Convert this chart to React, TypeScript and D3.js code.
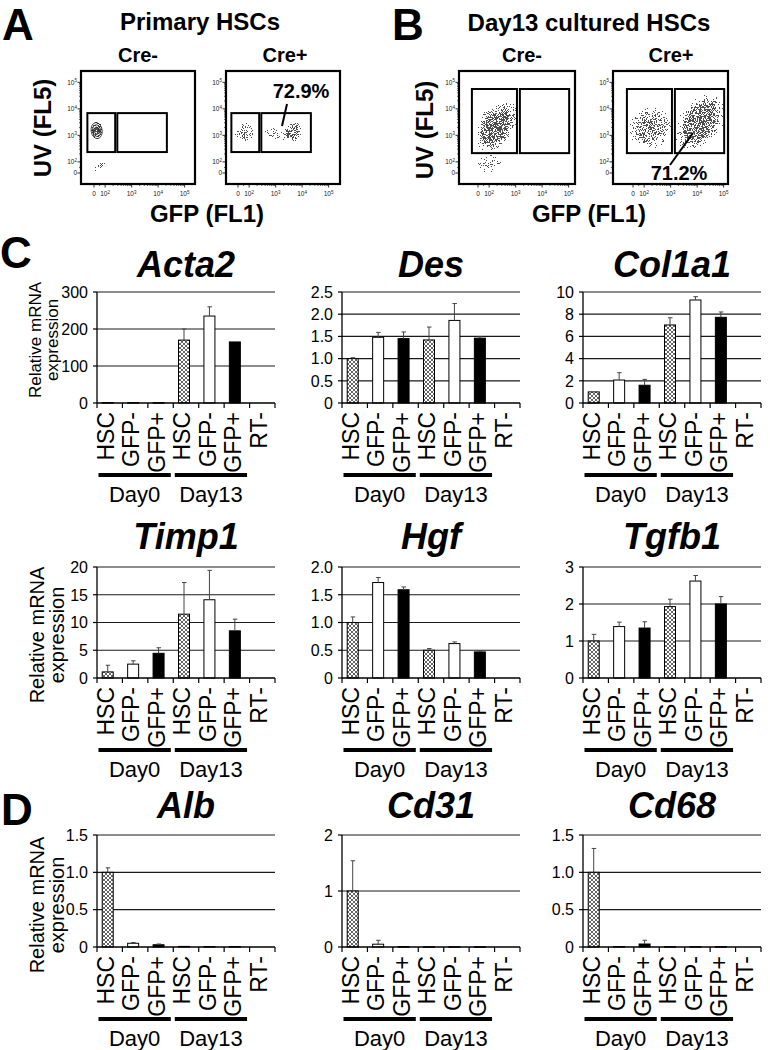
import React from "react";
import * as d3 from "d3";

const FONT = "'Liberation Sans', Arial, Helvetica, sans-serif";

// ---------------- Bar chart data ----------------
const categories = ["HSC", "GFP-", "GFP+", "HSC", "GFP-", "GFP+", "RT-"];
const sampleTypes = ["hsc", "neg", "pos", "hsc", "neg", "pos", "rt"];
const dayGroups = ["Day0", "Day13"];
const dayGroupSpans = [[0, 2], [3, 5]];

const acta2Mean = [1.2, 1.0, 0.8, 170, 235, 165, 0];
const acta2Sd = [0, 0, 0, 30, 25, 0, 0];
const acta2Ticks = [0, 100, 200, 300];
const acta2TickLabels = ["0", "100", "200", "300"];

const desMean = [1.0, 1.48, 1.45, 1.42, 1.86, 1.46, 0];
const desSd = [0.02, 0.11, 0.15, 0.29, 0.38, 0.03, 0];
const desTicks = [0, 0.5, 1, 1.5, 2, 2.5];
const desTickLabels = ["0", "0.5", "1.0", "1.5", "2.0", "2.5"];

const col1a1Mean = [1.0, 2.07, 1.6, 7.03, 9.28, 7.72, 0];
const col1a1Sd = [0, 0.66, 0.53, 0.65, 0.3, 0.48, 0];
const col1a1Ticks = [0, 2, 4, 6, 8, 10];
const col1a1TickLabels = ["0", "2", "4", "6", "8", "10"];

const timp1Mean = [1.1, 2.5, 4.45, 11.5, 14.1, 8.5, 0];
const timp1Sd = [1.2, 0.6, 1.0, 5.7, 5.3, 2.1, 0];
const timp1Ticks = [0, 5, 10, 15, 20];
const timp1TickLabels = ["0", "5", "10", "15", "20"];

const hgfMean = [1.0, 1.72, 1.59, 0.5, 0.62, 0.47, 0];
const hgfSd = [0.1, 0.09, 0.05, 0.03, 0.03, 0.02, 0];
const hgfTicks = [0, 0.5, 1, 1.5, 2];
const hgfTickLabels = ["0", "0.5", "1.0", "1.5", "2.0"];

const tgfb1Mean = [1.0, 1.39, 1.35, 1.93, 2.62, 2.0, 0];
const tgfb1Sd = [0.18, 0.12, 0.17, 0.2, 0.15, 0.2, 0];
const tgfb1Ticks = [0, 1, 2, 3];
const tgfb1TickLabels = ["0", "1", "2", "3"];

const albMean = [1.0, 0.05, 0.03, 0.008, 0.006, 0.006, 0];
const albSd = [0.06, 0.01, 0.01, 0, 0, 0, 0];
const albTicks = [0, 0.5, 1, 1.5];
const albTickLabels = ["0", "0.5", "1.0", "1.5"];

const cd31Mean = [1.0, 0.05, 0.006, 0.004, 0.004, 0.004, 0];
const cd31Sd = [0.54, 0.07, 0, 0, 0, 0, 0];
const cd31Ticks = [0, 1, 2];
const cd31TickLabels = ["0", "1", "2"];

const cd68Mean = [1.0, 0.006, 0.04, 0.004, 0.004, 0.004, 0];
const cd68Sd = [0.32, 0, 0.05, 0, 0, 0, 0];
const cd68Ticks = [0, 0.5, 1, 1.5];
const cd68TickLabels = ["0", "0.5", "1.0", "1.5"];

// ---------------- Flow cytometry data (display units: decades on biexponential axis) ----------------
const flowTickValues = [0, 1e2, 1e3, 1e4, 1e5];
const flowTickExps = ["", "2", "3", "4", "5"];
// populations: centre (ux, uy), half-widths (sx, sy), tilt, peak event density
const aNegClusters = [
  { ux: 0.1, uy: 1.6, sx: 0.26, sy: 0.38, rot: -8, dens: 0.62, contour: true },
  { ux: 0.25, uy: 0.27, sx: 0.32, sy: 0.13, rot: -35, dens: 0.44, contour: false },
];
const aPosClusters = [
  { ux: 0.28, uy: 1.5, sx: 0.42, sy: 0.4, rot: 0, dens: 0.5, contour: false },
  { ux: 1.47, uy: 1.48, sx: 0.52, sy: 0.32, rot: 0, dens: 0.44, contour: false },
  { ux: 2.15, uy: 1.55, sx: 0.32, sy: 0.42, rot: 0, dens: 0.57, contour: false },
];
const bNegClusters = [
  { ux: 0.68, uy: 1.74, sx: 1.12, sy: 0.7, rot: -56, dens: 0.61, contour: false },
  { ux: 0.4, uy: 0.35, sx: 0.58, sy: 0.34, rot: -20, dens: 0.44, contour: false },
];
const bPosClusters = [
  { ux: 0.64, uy: 1.7, sx: 0.92, sy: 0.82, rot: -30, dens: 0.55, contour: false },
  { ux: 2.55, uy: 1.92, sx: 1.28, sy: 0.82, rot: -55, dens: 0.6, contour: false },
];
const aGates = [[-0.25, 0.8, 0.79, 2.26], [0.88, 2.75, 0.79, 2.26]];
const bGates = [[-0.23, 1.47, 0.75, 3.17], [1.58, 3.44, 0.75, 3.17]];

function flowU(v: number) {
  if (v <= 0) return 0;
  if (v < 100) return (0.42 * v) / 100;
  return 0.42 + Math.log10(v / 100);
}

// ---------------- Layout ----------------
const COL_X = [97, 342, 583];
const PLOT_W = 178;
const ROWS = [
  { top: 292, bottom: 403, titleY: 277, labelSize: 17, labelY: 340, l1: 41, l2: 58 },
  { top: 567, bottom: 678, titleY: 549, labelSize: 20, labelY: 635, l1: 44, l2: 64 },
  { top: 835, bottom: 947, titleY: 818, labelSize: 20, labelY: 905, l1: 44, l2: 64 },
];
const FLOW_DEC = 26.5;

const charts = [
  { gene: "Acta2", mean: acta2Mean, sd: acta2Sd, ticks: acta2Ticks, tl: acta2TickLabels, row: 0, col: 0 },
  { gene: "Des", mean: desMean, sd: desSd, ticks: desTicks, tl: desTickLabels, row: 0, col: 1 },
  { gene: "Col1a1", mean: col1a1Mean, sd: col1a1Sd, ticks: col1a1Ticks, tl: col1a1TickLabels, row: 0, col: 2 },
  { gene: "Timp1", mean: timp1Mean, sd: timp1Sd, ticks: timp1Ticks, tl: timp1TickLabels, row: 1, col: 0 },
  { gene: "Hgf", mean: hgfMean, sd: hgfSd, ticks: hgfTicks, tl: hgfTickLabels, row: 1, col: 1 },
  { gene: "Tgfb1", mean: tgfb1Mean, sd: tgfb1Sd, ticks: tgfb1Ticks, tl: tgfb1TickLabels, row: 1, col: 2 },
  { gene: "Alb", mean: albMean, sd: albSd, ticks: albTicks, tl: albTickLabels, row: 2, col: 0 },
  { gene: "Cd31", mean: cd31Mean, sd: cd31Sd, ticks: cd31Ticks, tl: cd31TickLabels, row: 2, col: 1 },
  { gene: "Cd68", mean: cd68Mean, sd: cd68Sd, ticks: cd68Ticks, tl: cd68TickLabels, row: 2, col: 2 },
];

const flowPlots = [
  { id: "a1", left: 81, right: 195, top: 71, bottom: 184, x0: 13, clusters: aNegClusters, gates: aGates, seed: 3 },
  { id: "a2", left: 226, right: 340, top: 71, bottom: 184, x0: 12, clusters: aPosClusters, gates: aGates, seed: 7 },
  { id: "b1", left: 459, right: 575, top: 71, bottom: 184, x0: 19, clusters: bNegClusters, gates: bGates, seed: 11 },
  { id: "b2", left: 613, right: 728, top: 71, bottom: 184, x0: 20, clusters: bPosClusters, gates: bGates, seed: 19 },
];

function fillFor(t: string) {
  if (t === "hsc") return "url(#hatch)";
  if (t === "neg") return "#fff";
  return "#000";
}

function BarChart({ c }: any) {
  const r = ROWS[c.row];
  const x0 = COL_X[c.col];
  const x = d3.scaleBand<number>().domain(d3.range(categories.length)).range([x0, x0 + PLOT_W]);
  const y = d3.scaleLinear().domain([0, d3.max(c.ticks as number[]) as number]).range([r.bottom, r.top]);
  const bw = 11;
  const step = x.step();
  return (
    <g>
      <text x={x0 + PLOT_W / 2} y={r.titleY} textAnchor="middle" fontSize={36} fontWeight="bold" fontStyle="italic">
        {c.gene}
      </text>
      {c.col === 0 && (
        <g fontSize={r.labelSize}>
          <text transform={`translate(${r.l1},${r.labelY}) rotate(-90)`} textAnchor="middle">Relative mRNA</text>
          <text transform={`translate(${r.l2},${r.labelY}) rotate(-90)`} textAnchor="middle">expression</text>
        </g>
      )}
      {c.ticks.map((t: number, i: number) => (
        <g key={i}>
          {t > 0 && <line x1={x0} x2={x0 + PLOT_W} y1={y(t)} y2={y(t)} stroke="#1a1a1a" strokeWidth={1.2} />}
          <line x1={x0 - 4} x2={x0} y1={y(t)} y2={y(t)} stroke="#000" strokeWidth={1.2} />
          <text x={x0 - 9} y={y(t)} dy="0.36em" textAnchor="end" fontSize={16}>{c.tl[i]}</text>
        </g>
      ))}
      {c.mean.map((m: number, i: number) => {
        if (sampleTypes[i] === "rt") return null;
        const cx = (x(i) as number) + step / 2 - 2;
        const sd = c.sd[i];
        return (
          <g key={i}>
            <rect x={cx - bw / 2} y={y(m)} width={bw} height={Math.max(0.5, y(0) - y(m))} fill={fillFor(sampleTypes[i])} stroke="#000" strokeWidth={1} />
            {sd > 0 && (
              <g stroke="#444" strokeWidth={1}>
                <line x1={cx} x2={cx} y1={y(m)} y2={y(m + sd)} />
                <line x1={cx - 2} x2={cx + 2.5} y1={y(m + sd)} y2={y(m + sd)} />
              </g>
            )}
          </g>
        );
      })}
      <line x1={x0} x2={x0} y1={r.top} y2={r.bottom} stroke="#000" strokeWidth={1.3} />
      <line x1={x0} x2={x0 + PLOT_W} y1={r.bottom} y2={r.bottom} stroke="#000" strokeWidth={1.6} />
      {d3.range(categories.length + 1).map((i) => (
        <line key={i} x1={x0 + i * step} x2={x0 + i * step} y1={r.bottom} y2={r.bottom + 5} stroke="#000" strokeWidth={1.2} />
      ))}
      {categories.map((cat, i) => {
        const cx = (x(i) as number) + step / 2 - 4;
        return (
          <text key={i} transform={`translate(${cx},${r.bottom + 9}) rotate(-90)`} dy="0.36em" textAnchor="end" fontSize={23}>
            {cat}
          </text>
        );
      })}
      {dayGroups.map((g, gi) => {
        const [a, b] = dayGroupSpans[gi];
        const xa = (x(a) as number) + 1.5;
        const xb = (x(b) as number) + step - 2.5;
        return (
          <g key={g}>
            <line x1={xa} x2={xb} y1={r.bottom + 72} y2={r.bottom + 72} stroke="#000" strokeWidth={4} />
            <text x={(xa + xb) / 2} y={r.bottom + 99} textAnchor="middle" fontSize={22}>{g}</text>
          </g>
        );
      })}
    </g>
  );
}

function FlowPlot({ p }: any) {
  const zx = p.left + p.x0;
  const zy = p.bottom - 11;
  const xs = d3.scaleLinear().domain([0, 1]).range([zx, zx + FLOW_DEC]);
  const ys = d3.scaleLinear().domain([0, 1]).range([zy, zy - FLOW_DEC]);
  const minor: number[] = [];
  for (let k = 2; k <= 4; k++) for (let m = 2; m <= 9; m++) minor.push(m * Math.pow(10, k));
  minor.push(50);
  const geo = p.clusters.map((c: any) => {
    const cx = xs(c.ux), cy = ys(c.uy);
    return { cx, cy, rx: xs(c.ux + c.sx) - cx, ry: cy - ys(c.uy + c.sy) };
  });
  const table = "0 " + Array(29).fill("0.7").join(" ");
  return (
    <g>
      <defs>
        <filter id={`sp-${p.id}`} x={p.left} y={p.top} width={p.right - p.left} height={p.bottom - p.top} filterUnits="userSpaceOnUse" colorInterpolationFilters="sRGB">
          <feTurbulence type="fractalNoise" baseFrequency={1.1} numOctaves={2} seed={p.seed} result="noise" />
          <feColorMatrix in="noise" type="matrix" values="0 0 0 0 0  0 0 0 0 0  0 0 0 0 0  1 0 0 0 0" result="na" />
          <feComposite in="SourceGraphic" in2="na" operator="arithmetic" k1={0} k2={1} k3={-1} k4={0} result="diff" />
          <feComponentTransfer in="diff">
            <feFuncA type="discrete" tableValues={table} />
          </feComponentTransfer>
        </filter>
        {p.clusters.map((c: any, i: number) => (
          <radialGradient id={`g-${p.id}-${i}`} key={i}>
            <stop offset="0%" stopColor="#000" stopOpacity={c.dens} />
            <stop offset="55%" stopColor="#000" stopOpacity={c.dens - 0.06} />
            <stop offset="85%" stopColor="#000" stopOpacity={0.38} />
            <stop offset="100%" stopColor="#000" stopOpacity={0.25} />
          </radialGradient>
        ))}
      </defs>
      <g filter={`url(#sp-${p.id})`}>
        {p.clusters.map((c: any, i: number) => {
          const g = geo[i];
          return (
            <ellipse key={i} cx={g.cx} cy={g.cy} rx={g.rx} ry={g.ry} transform={`rotate(${c.rot} ${g.cx} ${g.cy})`} fill={`url(#g-${p.id}-${i})`} />
          );
        })}
      </g>
      {p.clusters.map((c: any, i: number) => {
        const g = geo[i];
        return c.contour ? (
          <g key={i} transform={`rotate(${c.rot} ${g.cx} ${g.cy})`}>
            {[0.8, 0.58, 0.36].map((s, j) => (
              <ellipse key={j} cx={g.cx} cy={g.cy} rx={g.rx * s} ry={g.ry * s} fill="none" stroke="#222" strokeWidth={0.9} opacity={0.9} />
            ))}
          </g>
        ) : null;
      })}
      {p.gates.map((g: number[], i: number) => (
        <rect key={i} x={xs(g[0])} y={ys(g[3])} width={xs(g[1]) - xs(g[0])} height={ys(g[2]) - ys(g[3])} fill="none" stroke="#000" strokeWidth={2} />
      ))}
      <rect x={p.left} y={p.top} width={p.right - p.left} height={p.bottom - p.top} fill="none" stroke="#000" strokeWidth={2.2} />
      {minor.map((v, i) => (
        <g key={i} stroke="#000" strokeWidth={0.6}>
          <line x1={xs(flowU(v))} x2={xs(flowU(v))} y1={p.bottom} y2={p.bottom + 2} />
          <line x1={p.left} x2={p.left - 2} y1={ys(flowU(v))} y2={ys(flowU(v))} />
        </g>
      ))}
      {flowTickValues.map((v, i) => (
        <g key={i}>
          <line x1={xs(flowU(v))} x2={xs(flowU(v))} y1={p.bottom} y2={p.bottom + 3.5} stroke="#000" strokeWidth={0.8} />
          <line x1={p.left} x2={p.left - 3.5} y1={ys(flowU(v))} y2={ys(flowU(v))} stroke="#000" strokeWidth={0.8} />
          <text x={xs(flowU(v))} y={p.bottom + 12} textAnchor="middle" fontSize={6.5} fill="#222">
            {v === 0 ? "0" : "10"}
            {v !== 0 && <tspan fontSize={4.5} dy={-2.5}>{flowTickExps[i]}</tspan>}
          </text>
          <text x={p.left - 4} y={ys(flowU(v)) + 2.3} textAnchor="end" fontSize={6.5} fill="#222">
            {v === 0 ? "0" : "10"}
            {v !== 0 && <tspan fontSize={4.5} dy={-2.5}>{flowTickExps[i]}</tspan>}
          </text>
        </g>
      ))}
    </g>
  );
}

export default function App() {
  return (
    <svg width={770} height={1050} viewBox="0 0 770 1050" style={{ position: "absolute", left: 0, top: 0, background: "#fff" }} fontFamily={FONT}>
      <defs>
        <pattern id="hatch" width={4} height={4} patternUnits="userSpaceOnUse">
          <rect width={4} height={4} fill="#fff" />
          <path d="M0,0 L4,4 M4,0 L0,4" stroke="#555" strokeWidth={0.9} />
        </pattern>
      </defs>
      <rect width={770} height={1050} fill="#fff" />

      {/* Panel letters */}
      <g fontSize={44} fontWeight="bold">
        <text x={2} y={40}>A</text>
        <text x={392} y={40}>B</text>
        <text x={0} y={268}>C</text>
        <text x={1} y={825}>D</text>
      </g>

      {/* Flow headings */}
      <g fontWeight="bold" textAnchor="middle">
        <text x={200} y={30} fontSize={24}>Primary HSCs</text>
        <text x={589} y={31} fontSize={24}>Day13 cultured HSCs</text>
        <text x={138} y={62} fontSize={20}>Cre-</text>
        <text x={285} y={62} fontSize={20}>Cre+</text>
        <text x={522} y={62} fontSize={20}>Cre-</text>
        <text x={671} y={62} fontSize={20}>Cre+</text>
        <text transform="translate(51,128) rotate(-90)" fontSize={24}>UV (FL5)</text>
        <text transform="translate(433,130) rotate(-90)" fontSize={24}>UV (FL5)</text>
        <text x={207} y={222} fontSize={24}>GFP (FL1)</text>
        <text x={589} y={222} fontSize={24}>GFP (FL1)</text>
      </g>

      {flowPlots.map((p) => (
        <FlowPlot key={p.id} p={p} />
      ))}

      <text x={301} y={98} textAnchor="middle" fontSize={20} fontWeight="bold">72.9%</text>
      <line x1={287} y1={104} x2={282} y2={126} stroke="#000" strokeWidth={2} />
      <text x={679} y={180} textAnchor="middle" fontSize={20} fontWeight="bold">71.2%</text>
      <line x1={693} y1={133} x2={670} y2={165} stroke="#000" strokeWidth={2} />

      {charts.map((c) => (
        <BarChart key={c.gene} c={c} />
      ))}
    </svg>
  );
}
